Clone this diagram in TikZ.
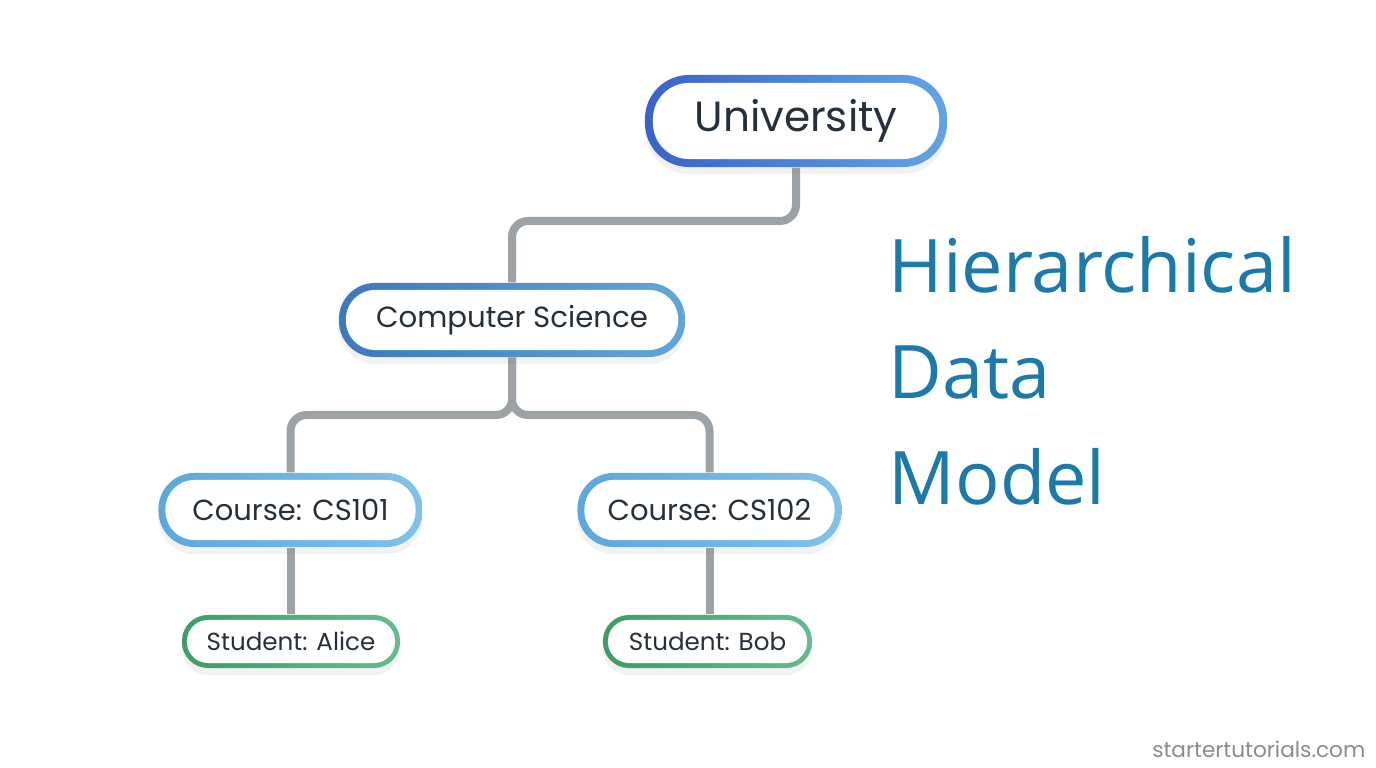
\documentclass[tikz,border=0pt]{standalone}
\usepackage{fontspec}
\setmainfont{Poppins}
\newfontfamily\titlefont{Open Sans}
\usetikzlibrary{shadows,backgrounds}
\definecolor{txt}{HTML}{26303C}
\definecolor{conn}{HTML}{9DA2A7}
\definecolor{titleblue}{HTML}{1B7AAA}
\definecolor{uniL}{HTML}{3A62CA}
\definecolor{uniR}{HTML}{62A4E4}
\definecolor{csL}{HTML}{3D78BA}
\definecolor{csR}{HTML}{62A6D8}
\definecolor{coL}{HTML}{5AA8DC}
\definecolor{coR}{HTML}{80C2EA}
\definecolor{stL}{HTML}{3E9C68}
\definecolor{stR}{HTML}{64BC8E}
\tikzset{
  pillbase/.style={rectangle, text=txt, inner sep=0pt,
    drop shadow={opacity=0.10, shadow xshift=0pt, shadow yshift=-0.07cm}},
  unibox/.style={pillbase, minimum width=3.02cm, minimum height=0.92cm,
    rounded corners=0.44cm, left color=uniL, right color=uniR,
    font=\fontsize{12pt}{14pt}\selectfont,
    path picture={\fill[white, rounded corners=0.36cm]
      ([shift={(0.08cm,0.08cm)}]path picture bounding box.south west) rectangle
      ([shift={(-0.08cm,-0.08cm)}]path picture bounding box.north east);}},
  csbox/.style={pillbase, minimum width=3.46cm, minimum height=0.74cm,
    rounded corners=0.36cm, left color=csL, right color=csR,
    font=\fontsize{8.3pt}{10pt}\selectfont,
    path picture={\fill[white, rounded corners=0.29cm]
      ([shift={(0.07cm,0.07cm)}]path picture bounding box.south west) rectangle
      ([shift={(-0.07cm,-0.07cm)}]path picture bounding box.north east);}},
  coursebox/.style={pillbase, minimum width=2.64cm, minimum height=0.74cm,
    rounded corners=0.36cm, left color=coL, right color=coR,
    font=\fontsize{8.25pt}{10pt}\selectfont,
    path picture={\fill[white, rounded corners=0.29cm]
      ([shift={(0.07cm,0.07cm)}]path picture bounding box.south west) rectangle
      ([shift={(-0.07cm,-0.07cm)}]path picture bounding box.north east);}},
  studentbox/.style={pillbase, minimum height=0.53cm,
    rounded corners=0.26cm, left color=stL, right color=stR,
    font=\fontsize{7.0pt}{8.5pt}\selectfont,
    path picture={\fill[white, rounded corners=0.21cm]
      ([shift={(0.05cm,0.05cm)}]path picture bounding box.south west) rectangle
      ([shift={(-0.05cm,-0.05cm)}]path picture bounding box.north east);}},
  connector/.style={draw=conn, line width=0.08cm, rounded corners=0.16cm},
  titletext/.style={anchor=base west, inner sep=0pt, text=titleblue,
    font=\titlefont\fontsize{21pt}{24pt}\selectfont},
  mark wm/.style={anchor=base east, inner sep=0pt, text=black!45,
    font=\fontsize{6.15pt}{7.5pt}\selectfont}
}
\begin{document}
\begin{tikzpicture}[x=0.01cm, y=-0.01cm]
\useasboundingbox (0,0) rectangle (1376,768);

\node[unibox] (uni) at (796,121) {University};
\node[csbox] (cs) at (512,320) {Computer Science};
\node[coursebox] (c1) at (290.5,510) {Course: CS101};
\node[coursebox] (c2) at (709.5,510) {Course: CS102};
\node[studentbox, minimum width=2.18cm] (s1) at (291,641.5) {Student: Alice};
\node[studentbox, minimum width=2.09cm] (s2) at (707.5,641.5) {Student: Bob};

\node[titletext] (t1) at (888,293) {Hierarchical};
\node[titletext] (t2) at (888,399) {Data};
\node[titletext] (t3) at (888,505) {Model};

\node[mark wm] (wm) at (1366,758) {startertutorials.com};

\begin{pgfonlayer}{background}
  \fill[white] (0,0) rectangle (1376,768);
  \draw[connector] (uni.south) -- (uni.south |- 0,221) -| (cs.north);
  \draw[connector] (cs.south) -- (cs.south |- 0,415) -| (c1.north);
  \draw[connector] (cs.south) -- (cs.south |- 0,415) -| (c2.north);
  \draw[connector] (c1.south) -- (c1.south |- s1.north);
  \draw[connector] (c2.south) -- (c2.south |- s2.north);
\end{pgfonlayer}
\end{tikzpicture}
\end{document}
